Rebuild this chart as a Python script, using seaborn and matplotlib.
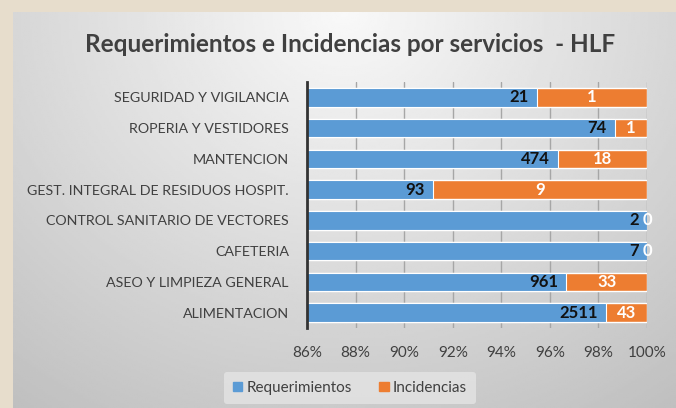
import numpy as np
import pandas as pd
import matplotlib
matplotlib.use("Agg")
import matplotlib.pyplot as plt
import seaborn as sns

categories = ["SEGURIDAD Y VIGILANCIA", "ROPERIA Y VESTIDORES", "MANTENCION",
              "GEST. INTEGRAL DE RESIDUOS HOSPIT.", "CONTROL SANITARIO DE VECTORES",
              "CAFETERIA", "ASEO Y LIMPIEZA GENERAL", "ALIMENTACION"]
requerimientos = [21, 74, 474, 93, 2, 7, 961, 2511]
incidencias = [1, 1, 18, 9, 0, 0, 33, 43]
xticks = [86, 88, 90, 92, 94, 96, 98, 100]

title = "Requerimientos e Incidencias por servicios  - HLF"
BLUE = "#5b9bd5"
ORANGE = "#ed7d31"
TXT = "#404040"

sns.set_theme(style="white")
plt.rcParams["font.family"] = ["Lato", "DejaVu Sans"]

df = pd.DataFrame({"cat": categories, "req": requerimientos, "inc": incidencias})
df["total"] = df["req"] + df["inc"]
df["req_pct"] = df["req"] / df["total"] * 100
df["all_pct"] = 100.0

W, H = 676, 408
fig = plt.figure(figsize=(W / 100, H / 100), dpi=100)
fig.patch.set_facecolor("#e7ddcc")

# gradient panel
bg = fig.add_axes([13 / W, 0, 1 - 13 / W, 1 - 12 / H], zorder=0)
gx, gy = np.meshgrid(np.linspace(0, 1, 300), np.linspace(0, 1, 200))
r = np.sqrt(((gx - 0.5) / 0.75) ** 2 + (gy / 1.1) ** 2)
val = np.clip(0.975 - 0.2 * r, 0, 1)
bg.imshow(val, cmap="gray", vmin=0, vmax=1, aspect="auto", extent=[0, 1, 1, 0])
bg.set_axis_off()

ax = fig.add_axes([307 / W, 1 - 328 / H, 340 / W, 246 / H], zorder=1)
ax.patch.set_alpha(0)

sns.barplot(data=df, y="cat", x="all_pct", color=ORANGE, orient="h", width=0.6,
            saturation=1, ax=ax, zorder=3)
sns.barplot(data=df, y="cat", x="req_pct", color=BLUE, orient="h", width=0.6,
            saturation=1, ax=ax, zorder=4, edgecolor="white", linewidth=0.8)

ax.set_xlim(86, 100)
ax.set_ylim(7.5, -0.5)
ax.set_xticks(xticks)
ax.set_xticklabels([f"{t}%" for t in xticks])
ax.set_xlabel("")
ax.set_ylabel("")
ax.grid(axis="x", color="#a6a6a6", linewidth=1, zorder=0)
ax.set_axisbelow(True)
for s in ["top", "right", "bottom"]:
    ax.spines[s].set_visible(False)
ax.spines["left"].set_color("#333333")
ax.spines["left"].set_linewidth(2)
ax.spines["left"].set_zorder(6)
ax.tick_params(axis="both", length=0, labelcolor=TXT)
ax.tick_params(axis="x", pad=13, labelsize=11)
ax.tick_params(axis="y", pad=13, labelsize=10.3)

for i, row in df.iterrows():
    ax.annotate(f"{row['req']}", (row["req_pct"], i), xytext=(-6, 0),
                textcoords="offset points", ha="right", va="center",
                fontsize=12, fontweight="bold", color="#111111", zorder=7)
    cx = (row["req_pct"] + 100) / 2
    ax.annotate(f"{row['inc']}", (cx, i), ha="center", va="center",
                fontsize=12, fontweight="bold", color="white", zorder=7,
                annotation_clip=False)

fig.text(350 / W, 1 - 44 / H, title, ha="center", va="center", fontsize=17.5,
         fontweight="bold", color=TXT)

handles = [plt.Rectangle((0, 0), 1, 1, color=BLUE), plt.Rectangle((0, 0), 1, 1, color=ORANGE)]
leg = fig.legend(handles, ["Requerimientos", "Incidencias"], loc="center",
                 bbox_to_anchor=(350 / W, 1 - 388 / H), ncol=2, frameon=True,
                 fontsize=11, handlelength=0.6, handleheight=0.6, handletextpad=0.3,
                 columnspacing=1.8, borderpad=0.6)
leg.get_frame().set_facecolor("#e4e4e4")
leg.get_frame().set_edgecolor("none")
leg.get_frame().set_alpha(0.8)
for t in leg.get_texts():
    t.set_color(TXT)

fig.savefig("out.png", dpi=100, facecolor=fig.get_facecolor())
